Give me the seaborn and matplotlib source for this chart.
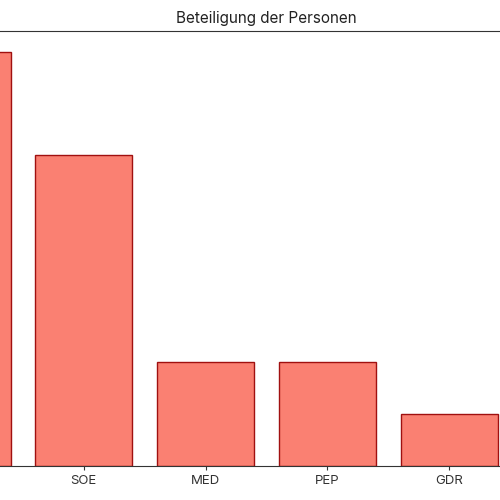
import matplotlib
matplotlib.use('Agg')
import matplotlib.pyplot as plt
import seaborn as sns
import pandas as pd

# Data (first label sits outside the visible area)
categories = ['INF', 'SOE', 'MED', 'PEP', 'GDR']
counts = [8, 6, 2, 2, 1]

df = pd.DataFrame({'Bereich': categories, 'Anzahl': counts})

sns.set_style('white')
plt.rcParams['font.family'] = ['Inter', 'DejaVu Sans']

fig = plt.figure(figsize=(5, 5), dpi=100)
# axes is wider than the figure, so the left and right parts are cut off
ax = fig.add_axes([-0.198, 0.068, 1.462, 0.87])

sns.barplot(data=df, x='Bereich', y='Anzahl', color='salmon',
            edgecolor='#a01010', linewidth=1, saturation=1, ax=ax)

ax.set_xlim(-0.5, 5.5)
ax.set_title('Beteiligung der Personen', fontsize=11, color='#222222')
ax.set_xlabel('')
ax.set_ylabel('')
ax.tick_params(axis='x', labelsize=9.5, bottom=True, length=3, colors='#333333')
for s in ax.spines.values():
    s.set_color('#333333')

fig.savefig('out.png', dpi=100)
